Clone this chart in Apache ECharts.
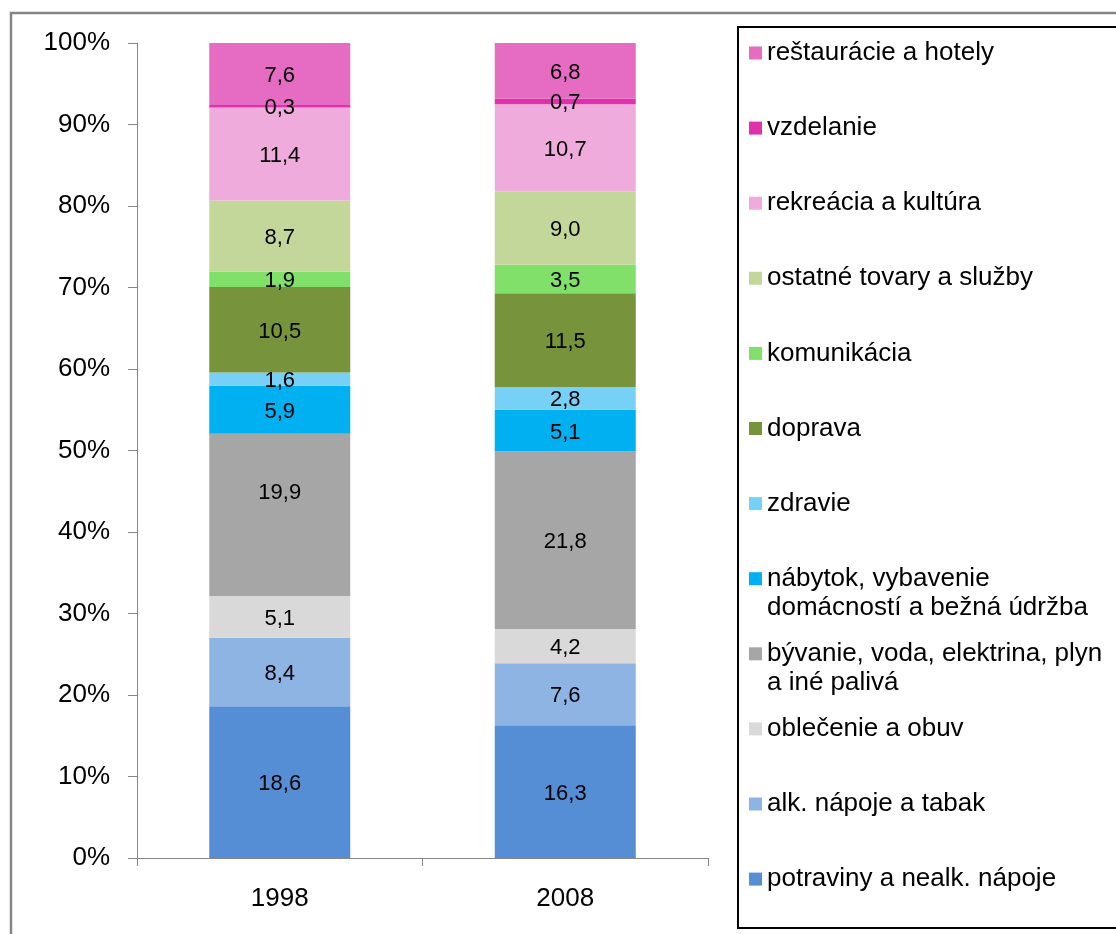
<!DOCTYPE html>
<html>
<head>
<meta charset="utf-8">
<script src="https://cdn.jsdelivr.net/npm/echarts@6/dist/echarts.min.js"></script>
<style>
html,body{margin:0;padding:0;background:#fff;}
#chart{width:1116px;height:934px;}
</style>
</head>
<body>
<div id="chart"></div>
<script>
const categories = ['1998', '2008'];
const seriesNames = [
  'potraviny a nealk. nápoje',
  'alk. nápoje a tabak',
  'oblečenie a obuv',
  'bývanie, voda, elektrina, plyn\na iné palivá',
  'nábytok, vybavenie\ndomácností a bežná údržba',
  'zdravie',
  'doprava',
  'komunikácia',
  'ostatné tovary a služby',
  'rekreácia a kultúra',
  'vzdelanie',
  'reštaurácie a hotely'
];
const values1998 = [18.6, 8.4, 5.1, 19.9, 5.9, 1.6, 10.5, 1.9, 8.7, 11.4, 0.3, 7.6];
const values2008 = [16.3, 7.6, 4.2, 21.8, 5.1, 2.8, 11.5, 3.5, 9.0, 10.7, 0.7, 6.8];
const colors = ['#558ED5', '#8EB4E3', '#D9D9D9', '#A6A6A6', '#00B0F0', '#77D0F5',
                '#77933C', '#80E06A', '#C4D79B', '#F0ABDD', '#E030AE', '#E66BC3'];
const yTicks = [0, 10, 20, 30, 40, 50, 60, 70, 80, 90, 100];

const FONT = '"Liberation Sans", Arial, sans-serif';
const raw = [values1998, values2008];
const sums = raw.map(a => a.reduce((s, v) => s + v, 0));

const series = seriesNames.map((name, i) => ({
  name: name,
  type: 'bar',
  stack: 'total',
  barWidth: 141,
  itemStyle: { color: colors[i] },
  label: {
    show: true,
    position: 'inside',
    offset: [0, 2],
    color: '#000',
    fontFamily: FONT,
    fontSize: 22,
    formatter: p => raw[p.dataIndex][i].toFixed(1).replace('.', ',')
  },
  emphasis: { disabled: true },
  data: raw.map((arr, k) => {
    const item = { value: arr[i] / sums[k] * 100 };
    // the 1998 housing label sits above its segment centre in the original
    if (i === 3 && k === 0) item.label = { offset: [0, -22] };
    return item;
  })
}));

const legendOrder = seriesNames.slice().reverse();
const legends = legendOrder.map((name, j) => {
  const multi = name.indexOf('\n') >= 0;
  const c = 53 + 75.1 * j;
  return {
    orient: 'vertical',
    left: 749,
    top: c - (multi ? 43.5 : 14.5),
    padding: 0,
    itemWidth: 13,
    itemHeight: 13,
    icon: 'rect',
    selectedMode: false,
    formatter: n => (n.indexOf('\n') >= 0 ? ' \n' + n : n),
    textStyle: { fontFamily: FONT, fontSize: 26, color: '#000', lineHeight: 29 },
    data: [name]
  };
});

const chart = echarts.init(document.getElementById('chart'), null, { renderer: 'canvas' });
chart.setOption({
  animation: false,
  backgroundColor: '#fff',
  textStyle: { fontFamily: FONT },
  graphic: [
    { type: 'rect', shape: { x: 11, y: 13, width: 1200, height: 1000 },
      style: { fill: 'none', stroke: '#868686', lineWidth: 2.5 }, silent: true },
    { type: 'rect', shape: { x: 738, y: 27, width: 500, height: 901 },
      style: { fill: 'none', stroke: '#000', lineWidth: 2 }, silent: true }
  ],
  grid: { left: 137, top: 43, right: 408, bottom: 76, containLabel: false },
  legend: legends,
  xAxis: {
    type: 'category',
    data: categories,
    axisLine: { lineStyle: { color: '#868686', width: 1 } },
    axisTick: { show: true, length: 8, lineStyle: { color: '#868686' } },
    axisLabel: { fontFamily: FONT, fontSize: 26, color: '#000', margin: 28 }
  },
  yAxis: {
    type: 'value',
    min: 0,
    max: 100,
    interval: 10,
    axisLine: { show: true, lineStyle: { color: '#868686', width: 1 } },
    axisTick: { show: true, length: 9, lineStyle: { color: '#868686' } },
    splitLine: { show: false },
    axisLabel: {
      fontFamily: FONT, fontSize: 26, color: '#000', margin: 27,
      formatter: v => yTicks.indexOf(v) >= 0 ? v + '%' : ''
    }
  },
  series: series
});
</script>
</body>
</html>
